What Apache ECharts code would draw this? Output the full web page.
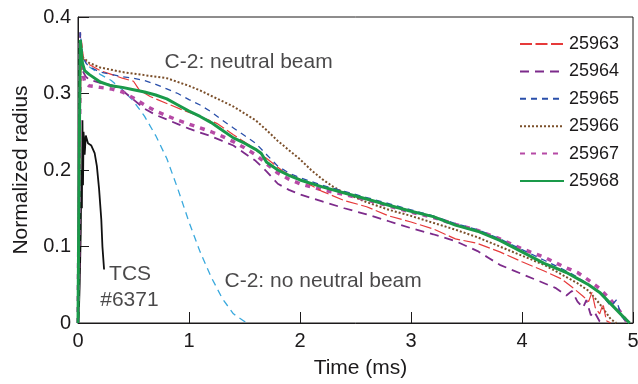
<!DOCTYPE html>
<html>
<head>
    <meta charset="utf-8">
    <title>Normalized radius vs time</title>
    <script src="https://cdn.jsdelivr.net/npm/echarts@6/dist/echarts.min.js"></script>
</head>
<body style="margin:0">
    <div id="main" style="width: 638px;height: 384px;"></div>
    <script type="text/javascript">
        // [time (ms), normalized radius]
        var shot25963 = [[0,0],[0.01,0.15],[0.03,0.37],[0.05,0.345],[0.1,0.338],[0.2,0.33],[0.3,0.325],[0.4,0.32],[0.5,0.316],[0.55,0.305],[0.65,0.296],[0.8,0.287],[0.95,0.278],[1.1,0.27],[1.25,0.261],[1.4,0.246],[1.55,0.232],[1.7,0.215],[1.85,0.198],[2.0,0.188],[2.2,0.172],[2.4,0.16],[2.6,0.152],[2.8,0.14],[3.0,0.132],[3.2,0.123],[3.4,0.11],[3.6,0.104],[3.8,0.093],[4.0,0.08],[4.2,0.068],[4.35,0.058],[4.45,0.047],[4.55,0.035],[4.6,0.028],[4.63,0.04],[4.66,0.02],[4.7,0.012],[4.73,0.025],[4.76,0.003],[4.8,0]];
        var shot25964 = [[0,0],[0.01,0.18],[0.02,0.38],[0.04,0.33],[0.07,0.322],[0.1,0.318],[0.2,0.314],[0.3,0.311],[0.4,0.304],[0.5,0.292],[0.6,0.28],[0.7,0.272],[0.8,0.266],[0.9,0.26],[1.0,0.254],[1.1,0.249],[1.2,0.244],[1.3,0.238],[1.4,0.232],[1.5,0.222],[1.6,0.212],[1.7,0.198],[1.8,0.182],[1.9,0.174],[2.0,0.168],[2.2,0.159],[2.4,0.15],[2.6,0.142],[2.8,0.133],[3.0,0.124],[3.2,0.116],[3.4,0.107],[3.6,0.094],[3.7,0.085],[3.8,0.076],[4.0,0.064],[4.2,0.052],[4.3,0.046],[4.4,0.036],[4.45,0.042],[4.5,0.028],[4.55,0.02],[4.58,0.03],[4.62,0.01],[4.65,0.015],[4.7,0.002],[4.75,0]];
        var shot25965 = [[0,0],[0.01,0.18],[0.02,0.38],[0.04,0.35],[0.07,0.34],[0.1,0.335],[0.2,0.328],[0.3,0.325],[0.4,0.322],[0.5,0.32],[0.6,0.317],[0.7,0.312],[0.8,0.306],[0.9,0.3],[1.0,0.292],[1.1,0.285],[1.2,0.276],[1.3,0.265],[1.4,0.255],[1.5,0.245],[1.6,0.235],[1.7,0.22],[1.8,0.205],[1.9,0.196],[2.0,0.19],[2.2,0.18],[2.4,0.172],[2.6,0.164],[2.8,0.156],[3.0,0.148],[3.2,0.14],[3.4,0.13],[3.6,0.122],[3.8,0.11],[4.0,0.096],[4.2,0.082],[4.4,0.068],[4.5,0.06],[4.6,0.05],[4.7,0.04],[4.8,0.022],[4.85,0.03],[4.9,0.008],[4.95,0]];
        var shot25966 = [[0,0],[0.01,0.2],[0.02,0.37],[0.04,0.348],[0.1,0.34],[0.2,0.334],[0.4,0.328],[0.6,0.324],[0.8,0.32],[0.9,0.315],[1.0,0.31],[1.1,0.304],[1.2,0.297],[1.3,0.29],[1.4,0.283],[1.5,0.274],[1.6,0.265],[1.7,0.252],[1.8,0.238],[1.9,0.226],[2.0,0.214],[2.1,0.2],[2.2,0.188],[2.3,0.178],[2.4,0.17],[2.6,0.158],[2.8,0.148],[3.0,0.14],[3.2,0.131],[3.4,0.122],[3.6,0.112],[3.8,0.1],[4.0,0.088],[4.2,0.076],[4.4,0.06],[4.5,0.052],[4.6,0.042],[4.7,0.025],[4.75,0.015],[4.8,0.005],[4.85,0]];
        var shot25967 = [[0,0],[0.01,0.15],[0.02,0.37],[0.04,0.33],[0.06,0.315],[0.1,0.31],[0.2,0.308],[0.3,0.306],[0.4,0.302],[0.5,0.294],[0.6,0.285],[0.7,0.277],[0.8,0.271],[0.9,0.265],[1.0,0.26],[1.1,0.255],[1.2,0.25],[1.3,0.244],[1.4,0.237],[1.5,0.229],[1.6,0.22],[1.7,0.208],[1.8,0.196],[1.9,0.188],[2.0,0.182],[2.2,0.174],[2.4,0.168],[2.6,0.161],[2.8,0.153],[3.0,0.145],[3.2,0.138],[3.4,0.129],[3.6,0.121],[3.8,0.11],[4.0,0.097],[4.2,0.086],[4.4,0.072],[4.5,0.066],[4.6,0.056],[4.7,0.045],[4.8,0.03],[4.9,0.012],[4.95,0]];
        var shot25968 = [[0,0],[0.01,0.2],[0.02,0.37],[0.04,0.34],[0.06,0.33],[0.1,0.325],[0.2,0.315],[0.3,0.31],[0.4,0.308],[0.5,0.305],[0.6,0.302],[0.7,0.298],[0.8,0.293],[0.9,0.285],[1.0,0.277],[1.1,0.27],[1.2,0.262],[1.3,0.252],[1.4,0.242],[1.5,0.235],[1.6,0.227],[1.65,0.222],[1.7,0.21],[1.8,0.2],[1.9,0.193],[2.0,0.187],[2.2,0.178],[2.4,0.17],[2.6,0.162],[2.8,0.154],[3.0,0.146],[3.2,0.139],[3.4,0.128],[3.6,0.12],[3.8,0.108],[4.0,0.093],[4.2,0.078],[4.4,0.066],[4.5,0.058],[4.6,0.05],[4.7,0.04],[4.8,0.025],[4.9,0.01],[4.97,0]];
        // C-2 without neutral beam (cyan dashed)
        var noBeam = [[0,0],[0.01,0.18],[0.02,0.37],[0.05,0.345],[0.1,0.335],[0.2,0.325],[0.3,0.317],[0.4,0.305],[0.5,0.29],[0.6,0.27],[0.7,0.245],[0.8,0.215],[0.9,0.175],[1.0,0.132],[1.1,0.093],[1.2,0.06],[1.3,0.032],[1.4,0.012],[1.5,0.002],[1.55,0]];
        // TCS #6371 (black)
        var tcs6371 = [[0.005,0],[0.015,0.05],[0.025,0.12],[0.03,0.2],[0.035,0.15],[0.04,0.265],[0.045,0.18],[0.05,0.25],[0.06,0.22],[0.07,0.245],[0.09,0.235],[0.12,0.232],[0.15,0.222],[0.17,0.205],[0.19,0.175],[0.21,0.135],[0.22,0.1],[0.235,0.07]];

        var shotNames = ['25963', '25964', '25965', '25966', '25967', '25968'];
        var xTicks = [0, 1, 2, 3, 4, 5];
        // annotation texts anchored at [time, radius]
        var notes = [
            {text: 'C-2: neutral beam', at: [0.78, 0.341]},
            {text: 'C-2: no neutral beam', at: [1.32, 0.055]},
            {text: 'TCS', at: [0.28, 0.064]},
            {text: '#6371', at: [0.2, 0.03]}
        ];

        var font = 'Liberation Sans, Arial, Helvetica, sans-serif';
        var ink = '#1c1a1b';

        var myChart = echarts.init(document.getElementById('main'));

        function shotLine(name, data, color, width, dash) {
            return {
                name: name,
                type: 'line',
                data: data,
                symbol: 'none',
                showSymbol: false,
                lineStyle: {color: color, width: width, type: dash},
                itemStyle: {color: color},
                z: 3
            };
        }

        var option = {
            animation: false,
            textStyle: {fontFamily: font},
            grid: {
                left: 78, right: 5, top: 17, bottom: 61,
                outerBoundsMode: 'none',
                containLabel: false,
                show: true, borderColor: ink, borderWidth: 1
            },
            legend: {
                data: shotNames,
                orient: 'vertical',
                left: 514,
                top: 30,
                itemWidth: 44,
                itemHeight: 14,
                itemGap: 9.4,
                itemStyle: {opacity: 0},
                textStyle: {fontSize: 18, color: ink, fontFamily: font}
            },
            xAxis: {
                type: 'value',
                min: xTicks[0],
                max: xTicks[xTicks.length - 1],
                interval: 1,
                name: 'Time (ms)',
                nameLocation: 'middle',
                nameGap: 35,
                nameTextStyle: {fontSize: 21, color: ink, padding: [0, 0, 0, 10]},
                axisLine: {lineStyle: {color: ink, width: 1}},
                axisTick: {inside: true, length: 11, lineStyle: {color: ink}},
                axisLabel: {fontSize: 20, color: ink, margin: 8},
                splitLine: {show: false}
            },
            yAxis: {
                type: 'value',
                min: 0,
                max: 0.4,
                interval: 0.1,
                name: 'Normalized radius',
                nameLocation: 'middle',
                nameGap: 46,
                nameTextStyle: {fontSize: 21, color: ink},
                axisLine: {show: true, lineStyle: {color: ink, width: 1}},
                axisTick: {show: true, inside: true, length: 11, lineStyle: {color: ink}},
                axisLabel: {fontSize: 20, color: ink, margin: 7},
                splitLine: {show: false}
            },
            series: [
                shotLine('no beam', noBeam, '#3aa9dd', 1.3, [7, 5]),
                shotLine('TCS', tcs6371, '#111111', 1.8, 'solid'),
                shotLine(shotNames[3], shot25966, '#7b4f2a', 2, [2, 2]),
                shotLine(shotNames[1], shot25964, '#7d2b8b', 1.8, [9, 6]),
                shotLine(shotNames[4], shot25967, '#b64aa6', 3.5, [5, 6]),
                shotLine(shotNames[0], shot25963, '#e63a3a', 1.2, [12, 3.5]),
                shotLine(shotNames[2], shot25965, '#2a4faa', 1.3, [6, 5]),
                shotLine(shotNames[5], shot25968, '#1a9a4a', 3, 'solid'),
                {
                    name: 'notes',
                    type: 'scatter',
                    symbolSize: 0,
                    data: notes.map(function (n) {
                        return {value: n.at, label: {formatter: n.text}};
                    }),
                    label: {
                        show: true,
                        position: 'right',
                        distance: 0,
                        fontSize: 21,
                        color: ink,
                        fontFamily: font
                    },
                    silent: true,
                    z: 5
                }
            ]
        };

        myChart.setOption(option);
    </script>
</body>
</html>
